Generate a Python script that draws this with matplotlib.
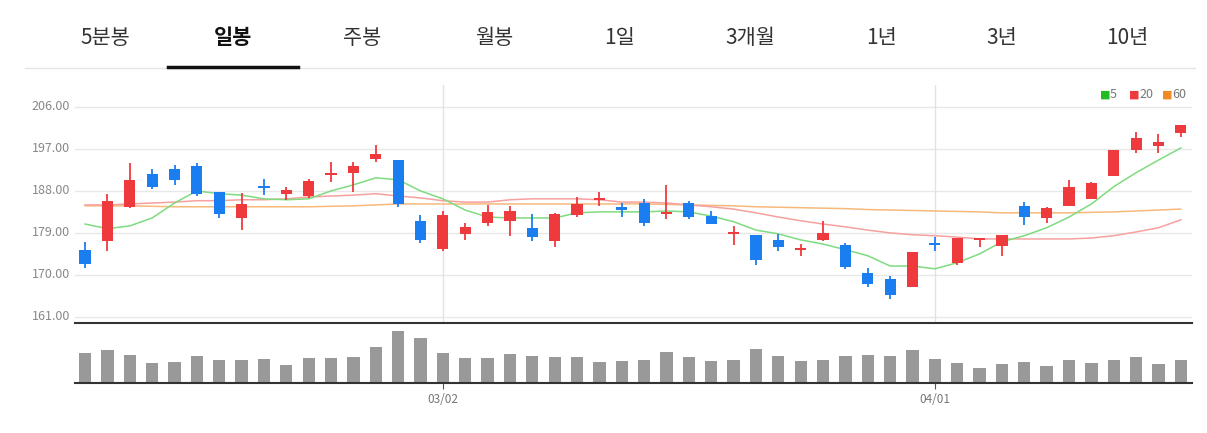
import matplotlib.pyplot as plt
import numpy as np

plt.rcParams['font.family'] = ['Noto Sans CJK KR', 'DejaVu Sans']

tabs = ["5분봉", "일봉", "주봉", "월봉", "1일", "3개월", "1년", "3년", "10년"]
tab_x = [105, 233, 362, 494, 620, 750, 882, 1002, 1127]

opens = [175.4, 177.3, 184.6, 191.6, 192.7, 193.4, 187.8, 182.2, 189.1, 187.4,
         186.9, 191.4, 191.9, 194.9, 194.6, 181.6, 175.6, 178.8, 181.1, 181.6,
         180.1, 177.3, 182.9, 186.1, 184.6, 185.4, 183.1, 185.4, 182.6, 178.8,
         178.6, 177.5, 175.4, 177.5, 176.4, 170.4, 169.1, 167.4, 176.8, 172.6,
         177.5, 176.2, 184.8, 182.2, 184.8, 186.3, 191.2, 196.8, 197.6, 200.4]
closes = [172.4, 185.9, 190.4, 188.9, 190.4, 187.4, 183.1, 185.2, 188.6, 188.2,
          190.1, 191.9, 193.4, 195.9, 185.2, 177.5, 182.9, 180.3, 183.5, 183.7,
          178.1, 183.1, 185.2, 186.5, 183.9, 181.1, 183.5, 182.4, 180.9, 179.0,
          173.2, 176.0, 175.6, 179.0, 171.7, 168.1, 165.7, 174.9, 176.5, 177.9,
          177.9, 178.6, 182.4, 184.4, 188.9, 189.7, 196.8, 199.4, 198.5, 202.1]
highs = [177.1, 187.4, 194.0, 192.7, 193.6, 194.0, 187.8, 187.6, 190.6, 188.9,
         190.6, 194.2, 194.2, 197.9, 194.6, 182.9, 183.7, 181.1, 185.0, 184.8,
         183.1, 183.3, 186.7, 187.8, 185.4, 186.3, 189.3, 185.9, 183.7, 180.5,
         178.6, 178.8, 176.6, 181.6, 176.9, 171.5, 169.8, 174.9, 178.1, 177.9,
         177.9, 178.6, 185.6, 184.6, 190.4, 189.9, 196.8, 200.6, 200.2, 202.1]
lows = [171.5, 175.1, 184.4, 188.4, 189.3, 186.9, 182.2, 179.6, 187.1, 186.1,
        186.5, 189.9, 187.8, 194.2, 184.6, 176.9, 175.1, 177.5, 180.5, 178.4,
        177.3, 176.0, 182.4, 184.8, 182.4, 180.5, 182.0, 182.0, 180.9, 176.4,
        172.1, 175.1, 174.1, 177.3, 171.3, 167.4, 164.9, 167.4, 175.1, 172.1,
        176.0, 174.1, 180.7, 181.1, 184.8, 186.3, 191.2, 196.1, 196.1, 199.6]

ma5 = [180.9, 179.9, 180.5, 182.2, 185.4, 188.0, 187.4, 187.1, 186.3, 186.1,
       186.3, 188.0, 189.3, 190.8, 190.4, 188.0, 186.3, 183.9, 182.4, 182.2,
       182.2, 182.2, 183.3, 183.5, 183.5, 183.5, 183.7, 183.5, 182.6, 181.4,
       179.6, 178.8, 177.5, 176.6, 175.4, 174.1, 171.9, 171.9, 171.3, 172.6,
       174.5, 177.1, 178.4, 180.1, 182.4, 185.2, 188.9, 191.9, 194.6, 197.2]
ma20 = [185.0, 185.0, 185.2, 185.4, 185.6, 185.9, 185.9, 186.1, 186.1, 186.3,
        186.7, 186.9, 187.1, 187.4, 186.9, 186.5, 185.9, 185.6, 185.6, 186.1,
        186.3, 186.3, 186.3, 186.1, 185.6, 185.6, 185.4, 185.0, 184.6, 184.1,
        183.3, 182.4, 181.6, 180.9, 180.3, 179.6, 179.0, 178.6, 178.4, 178.1,
        177.7, 177.7, 177.7, 177.7, 177.7, 177.9, 178.4, 179.2, 180.1, 181.8]
ma60 = [184.8, 184.8, 184.8, 184.7, 184.6, 184.6, 184.6, 184.6, 184.6, 184.6,
        184.6, 184.7, 184.8, 185.0, 185.2, 185.2, 185.2, 185.2, 185.2, 185.2,
        185.2, 185.2, 185.2, 185.2, 185.2, 185.2, 185.1, 185.0, 184.9, 184.8,
        184.6, 184.5, 184.4, 184.3, 184.2, 184.0, 183.9, 183.8, 183.7, 183.6,
        183.5, 183.3, 183.3, 183.3, 183.3, 183.4, 183.5, 183.7, 183.9, 184.1]
volumes = [30, 33, 28, 20, 21, 27, 23, 23, 24, 18, 25, 25, 26, 36, 52, 45, 30, 25, 25, 29,
           27, 26, 26, 21, 22, 23, 31, 26, 22, 23, 34, 27, 22, 23, 27, 28, 27, 33, 24, 20,
           15, 19, 21, 17, 23, 20, 23, 26, 19, 23]
date_ticks = {16: "03/02", 38: "04/01"}
y_ticks = [161, 170, 179, 188, 197, 206]

W, H = 1207, 433
fig = plt.figure(figsize=(W / 100, H / 100), dpi=100)

def box(l, t, r, b):
    return [l / W, 1 - b / H, (r - l) / W, (b - t) / H]

# tab bar
for lab, x in zip(tabs, tab_x):
    bold = lab == "일봉"
    fig.text(x / W, 1 - 38 / H, lab, ha="center", va="center", fontsize=15,
             fontweight="bold" if bold else "normal", color="#111111" if bold else "#333333")
fig.add_artist(plt.Line2D([25 / W, 1195 / W], [1 - 68 / H] * 2, color="#e5e5e5", lw=1))
fig.add_artist(plt.Line2D([168 / W, 298 / W], [1 - 67 / H] * 2, color="#111111", lw=2.5))

n = len(opens)
x = np.arange(n)
up = "#ee3a3d"
down = "#1a7ef0"
xlim = (-0.45, 49.5)

ax = fig.add_axes(box(75, 85, 1192, 322))
ax.set_xlim(*xlim)
ax.set_ylim(159.9, 210.7)
for t in y_ticks:
    ax.axhline(t, color="#e8e8e8", lw=1, zorder=0)
    fig.text(70 / W, 1 - (107 + (206 - t) * 210 / 45) / H, f"{t:.2f}", ha="right", va="center",
             fontsize=9, color="#888888")
for i in date_ticks:
    ax.axvline(i, color="#e3e3e3", lw=1, zorder=0)
ax.plot(x, ma60, color="#f7b87a", lw=1.1, zorder=1)
ax.plot(x, ma20, color="#f7a0a0", lw=1.1, zorder=1)
ax.plot(x, ma5, color="#7fdb7f", lw=1.1, zorder=1)
for i in range(n):
    c = up if closes[i] >= opens[i] else down
    ax.vlines(i, lows[i], highs[i], color=c, lw=1.3, zorder=2)
    lo, hi = min(opens[i], closes[i]), max(opens[i], closes[i])
    ax.bar(i, max(hi - lo, 0.35), bottom=lo, width=0.5, color=c, zorder=3)
ax.set_xticks([])
ax.set_yticks([])
for s in ax.spines.values():
    s.set_visible(False)

# legend
for lx, col, lab in [(1100, "#22bb22", "5"), (1129, "#ee3a3d", "20"), (1162, "#f08a24", "60")]:
    fig.text(lx / W, 1 - 95 / H, "■", color=col, fontsize=8, va="center", family="DejaVu Sans")
    fig.text((lx + 10) / W, 1 - 95 / H, lab, color="#777777", fontsize=9, va="center")

axv = fig.add_axes(box(75, 323, 1192, 383))
axv.set_xlim(*xlim)
axv.set_ylim(0, 60)
axv.bar(x, volumes, width=0.55, color="#999999")
axv.set_yticks([])
axv.set_xticks(list(date_ticks.keys()))
axv.set_xticklabels(list(date_ticks.values()), fontsize=8.5, color="#777777")
axv.tick_params(axis="x", length=4, color="#555555")
for k in ["left", "right"]:
    axv.spines[k].set_visible(False)
axv.spines["top"].set_color("#333333")
axv.spines["top"].set_linewidth(1.5)
axv.spines["bottom"].set_color("#333333")
axv.spines["bottom"].set_linewidth(1.5)

fig.savefig("out.png", dpi=100)
